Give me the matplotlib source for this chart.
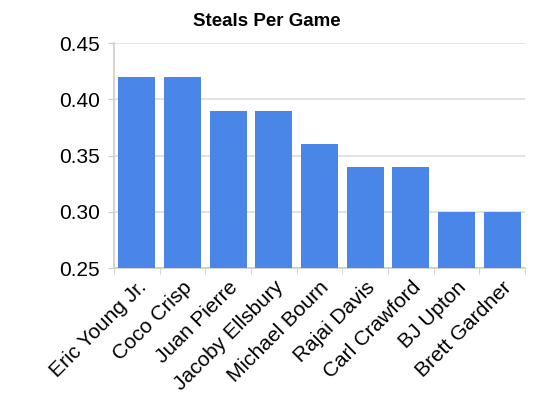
import numpy as np
import matplotlib
matplotlib.use("Agg")
from matplotlib import pyplot as plt

players = ["Eric Young Jr.", "Coco Crisp", "Juan Pierre", "Jacoby Ellsbury",
           "Michael Bourn", "Rajai Davis", "Carl Crawford", "BJ Upton", "Brett Gardner"]
steals_per_game = [0.42, 0.42, 0.39, 0.39, 0.36, 0.34, 0.34, 0.30, 0.30]
y_ticks = [0.25, 0.30, 0.35, 0.40, 0.45]

plt.rcParams['font.family'] = ['Liberation Sans', 'DejaVu Sans']

fig = plt.figure(figsize=(5.36, 3.98), dpi=100)
W, H = 536, 398
ax = fig.add_axes([114 / W, 1 - 268 / H, (525 - 114) / W, (268 - 43) / H])

x = np.arange(len(players))
ax.bar(x, steals_per_game, width=0.81, color="#4a86e8", zorder=3)

ax.set_xlim(-0.5, len(players) - 0.5)
ax.set_ylim(0.25, 0.45)
ax.set_yticks(y_ticks)
ax.set_yticklabels(["%.2f" % v for v in y_ticks], fontsize=15)
ax.grid(axis="y", color="#dddddd", linewidth=1.2, zorder=0)

ax.set_xticks(x)
ax.set_xticklabels(players, rotation=45, ha="right", rotation_mode="anchor", fontsize=15)
ax.set_xticks(np.arange(len(players) + 1) - 0.5, minor=True)
ax.tick_params(axis="x", which="major", length=0, pad=7)
ax.tick_params(axis="x", which="minor", length=4, color="#cccccc")
ax.tick_params(axis="y", length=4, color="#cccccc", pad=6)

for side in ["top", "right"]:
    ax.spines[side].set_visible(False)
for side in ["left", "bottom"]:
    ax.spines[side].set_color("#cccccc")
    ax.spines[side].set_linewidth(1.2)

fig.text(267 / W, 1 - 21 / H, "Steals Per Game", ha="center", va="center",
         fontsize=13.5, fontweight="bold")

plt.savefig("out.png", dpi=100)
